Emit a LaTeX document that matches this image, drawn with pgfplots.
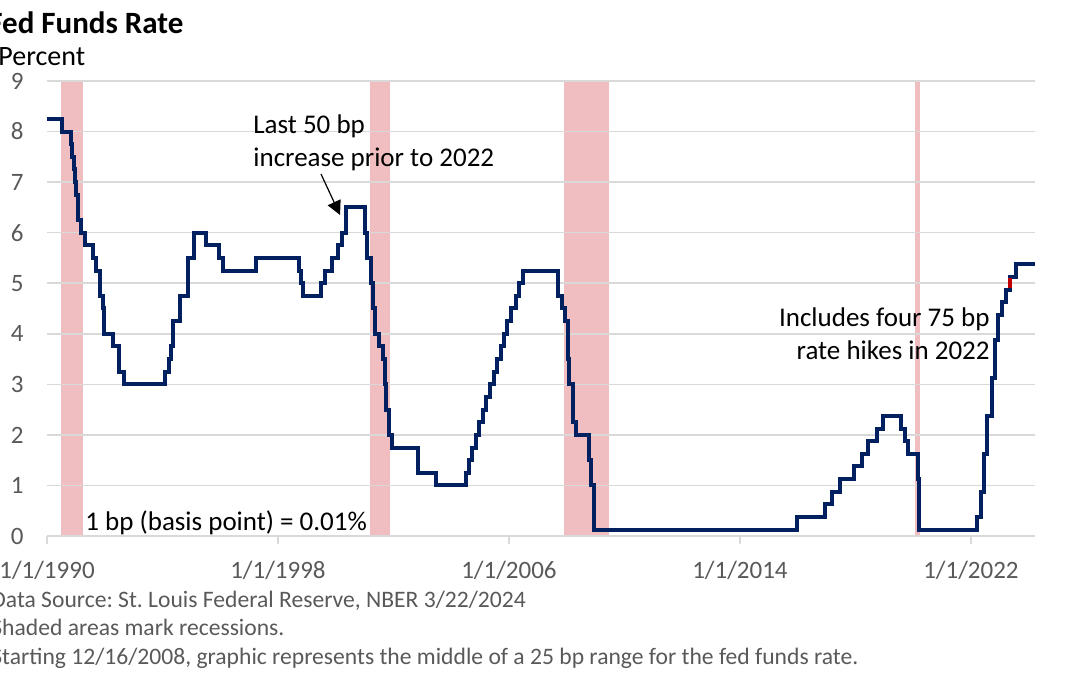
\documentclass[border=0pt]{standalone}
\usepackage{fontspec}
\setmainfont{Carlito}
\usepackage{pgfplots}
\pgfplotsset{compat=1.18}
\usetikzlibrary{arrows.meta}
\definecolor{navy}{RGB}{0,32,96}
\definecolor{recess}{RGB}{240,190,192}
\definecolor{gridgray}{RGB}{217,217,217}
\definecolor{tickgray}{RGB}{89,89,89}
\definecolor{hl}{RGB}{192,0,0}
\frenchspacing
\begin{document}
\begin{tikzpicture}
\begin{axis}[
  set layers,
  at={(23.5pt,69.5pt)}, anchor=south west,
  scale only axis, width=494pt, height=227.5pt,
  xmin=1990, xmax=2024.22, ymin=0, ymax=9,
  axis x line*=bottom, axis y line*=left,
  y axis line style={draw=none},
  x axis line style={draw=gridgray, line width=0.75pt},
  tick align=outside,
  major tick length=4pt,
  xtick={1990,1998,2006,2014,2022},
  xticklabels={1/1/1990,1/1/1998,1/1/2006,1/1/2014,1/1/2022},
  xtick style={draw=gridgray, line width=0.75pt},
  ytick={0,1,...,9},
  ytick style={draw=none},
  ymajorgrids, grid style={draw=gridgray, line width=0.75pt},
  /pgf/number format/assume math mode=true,
  xticklabel style={font=\fontsize{12.5}{15}\selectfont, text=tickgray, anchor=base, inner sep=0pt, yshift=-17pt},
  yticklabel style={font=\fontsize{12.5}{15}\selectfont, text=tickgray, anchor=east, inner sep=0pt, xshift=-7.5pt},
  clip=false,
]
% recessions
\addplot[fill=recess, draw=none, on layer=axis background] coordinates {(1990.497,9) (1991.247,9)} \closedcycle;
\addplot[fill=recess, draw=none, on layer=axis background] coordinates {(2001.17,9) (2001.87,9)} \closedcycle;
\addplot[fill=recess, draw=none, on layer=axis background] coordinates {(2007.90,9) (2009.45,9)} \closedcycle;
\addplot[fill=recess, draw=none, on layer=axis background] coordinates {(2020.08,9) (2020.25,9)} \closedcycle;
% fed funds target
\addplot[const plot, navy, line width=2pt, line join=miter] coordinates {
(1990.000,8.25) (1990.529,8.00) (1990.825,7.75) (1990.866,7.50) (1990.932,7.25) (1990.962,7.00)
(1991.019,6.75) (1991.085,6.25) (1991.181,6.00) (1991.326,5.75) (1991.595,5.50) (1991.699,5.25)
(1991.830,5.00) (1991.847,4.75) (1991.929,4.50) (1991.967,4.00) (1992.273,3.75) (1992.500,3.25)
(1992.675,3.00) (1994.093,3.25) (1994.219,3.50) (1994.293,3.75) (1994.373,4.25) (1994.622,4.75)
(1994.871,5.50) (1995.085,6.00) (1995.510,5.75) (1995.964,5.50) (1996.082,5.25) (1997.227,5.50)
(1998.743,5.25) (1998.786,5.00) (1998.877,4.75) (1999.493,5.00) (1999.644,5.25) (1999.874,5.50)
(2000.089,5.75) (2000.219,6.00) (2000.372,6.50) (2001.005,6.00) (2001.082,5.50) (2001.214,5.00)
(2001.293,4.50) (2001.367,4.00) (2001.485,3.75) (2001.636,3.50) (2001.710,3.00) (2001.751,2.50)
(2001.847,2.00) (2001.943,1.75) (2002.847,1.25) (2003.480,1.00) (2004.495,1.25) (2004.607,1.50)
(2004.721,1.75) (2004.858,2.00) (2004.951,2.25) (2005.089,2.50) (2005.219,2.75) (2005.334,3.00)
(2005.493,3.25) (2005.603,3.50) (2005.718,3.75) (2005.833,4.00) (2005.948,4.25) (2006.082,4.50)
(2006.236,4.75) (2006.353,5.00) (2006.490,5.25) (2007.712,4.75) (2007.830,4.50) (2007.943,4.25)
(2008.060,3.50) (2008.082,3.00) (2008.213,2.25) (2008.331,2.00) (2008.770,1.50) (2008.828,1.00)
(2008.959,0.125) (2015.959,0.375) (2016.956,0.625) (2017.203,0.875) (2017.452,1.125) (2017.951,1.375)
(2018.219,1.625) (2018.449,1.875) (2018.737,2.125) (2018.967,2.375) (2019.581,2.125) (2019.715,1.875)
(2019.830,1.625) (2020.172,1.125) (2020.205,0.125) (2022.205,0.375) (2022.340,0.875) (2022.455,1.625)
(2022.570,2.375) (2022.723,3.125) (2022.838,3.875) (2022.953,4.375) (2023.088,4.625) (2023.222,4.875)
(2023.337,5.125) (2023.567,5.375) (2024.220,5.375)
};
\addplot[hl, line width=2pt] coordinates {(2023.337,4.90) (2023.337,5.10)};
% arrow
\draw[black, line width=0.6pt, -{Triangle[width=7pt,length=7pt]}] (axis cs:1999.49,7.16) -- (axis cs:2000.15,6.35);
\end{axis}
% titles
\node[anchor=base west, inner sep=0pt, font=\fontsize{15.5}{19}\selectfont\bfseries] at (-6pt,320.5pt) {Fed Funds Rate};
\node[anchor=base west, inner sep=0pt, font=\fontsize{14}{17}\selectfont] at (-1pt,304.5pt) {Percent};
% annotations
\node[anchor=base west, inner sep=0pt, font=\fontsize{13.5}{16}\selectfont] at (126.5pt,270.5pt) {Last 50 bp};
\node[anchor=base west, inner sep=0pt, font=\fontsize{13.5}{16}\selectfont] at (126.5pt,254pt) {increase prior to 2022};
\node[anchor=base east, inner sep=0pt, font=\fontsize{13.5}{16}\selectfont] at (495pt,174pt) {Includes four 75 bp};
\node[anchor=base east, inner sep=0pt, font=\fontsize{13.5}{16}\selectfont] at (495pt,157.5pt) {rate hikes in 2022};
\node[anchor=base west, inner sep=0pt, font=\fontsize{13.5}{16}\selectfont] at (42.5pt,72.5pt) {1 bp (basis point) = 0.01\%};
% footnotes
\node[anchor=base west, inner sep=0pt, text=tickgray, font=\fontsize{11.8}{14}\selectfont] at (-4.5pt,34pt) {Data Source: St. Louis Federal Reserve, NBER 3/22/2024};
\node[anchor=base west, inner sep=0pt, text=tickgray, font=\fontsize{11.8}{14}\selectfont] at (-4.5pt,20pt) {Shaded areas mark recessions.};
\node[anchor=base west, inner sep=0pt, text=tickgray, font=\fontsize{11.8}{14}\selectfont] at (-4.5pt,5.5pt) {Starting 12/16/2008, graphic represents the middle of a 25 bp range for the fed funds rate.};
\pgfresetboundingbox
\path[use as bounding box] (0,0) rectangle (540pt,337.5pt);
\end{tikzpicture}
\end{document}
